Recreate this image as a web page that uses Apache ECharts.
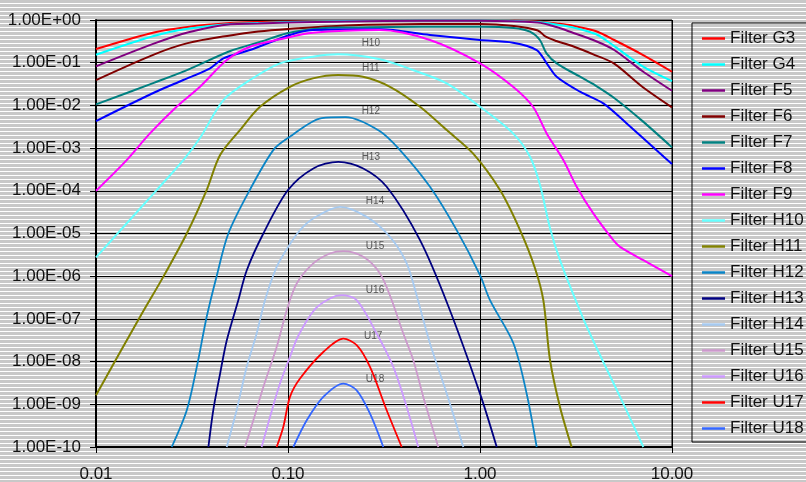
<!DOCTYPE html>
<html><head><meta charset="utf-8">
<script src="https://cdn.jsdelivr.net/npm/echarts@6/dist/echarts.min.js"></script>
<style>
html,body{margin:0;padding:0;background:#fff;}
#c{width:806px;height:482px;background:repeating-linear-gradient(to bottom,#c8c8c8 0px,#c8c8c8 3px,#ffffff 3px,#ffffff 4px);}
</style></head><body><div id="c"></div>
<script>
const seriesNames = ['Filter G3','Filter G4','Filter F5','Filter F6','Filter F7','Filter F8','Filter F9','Filter H10','Filter H11','Filter H12','Filter H13','Filter H14','Filter U15','Filter U16','Filter U17','Filter U18'];
const seriesColors = ['#ff0000','#00ffff','#800080','#800000','#008080','#0000ff','#ff00ff','#66ffff','#808000','#0a84c6','#000080','#a6caf0','#cc99cc','#cc99ff','#ff0000','#3366ff'];

const g3 = [[0.01,0.209],[0.02,0.512],[0.03,0.689],[0.05,0.851],[0.07,0.898],[0.1,0.923],[0.2,0.948],[0.5,0.973],[1,0.973],[2,0.923],[2.5,0.828],[3,0.743],[4,0.552],[5,0.34],[7,0.155],[10,0.0614]];
const g4 = [[0.01,0.154],[0.02,0.422],[0.03,0.622],[0.05,0.81],[0.07,0.851],[0.1,0.898],[0.2,0.948],[0.5,0.973],[1,0.973],[2,0.898],[2.5,0.785],[3,0.685],[4,0.47],[5,0.245],[7,0.0836],[10,0.0372]];
const f5 = [[0.01,0.0822],[0.02,0.279],[0.03,0.51],[0.05,0.797],[0.07,0.828],[0.1,0.873],[0.2,0.923],[0.5,0.963],[1,0.963],[2,0.873],[2.5,0.685],[3,0.515],[4,0.322],[5,0.198],[7,0.064],[10,0.022]];
const f6 = [[0.01,0.0392],[0.02,0.155],[0.03,0.287],[0.05,0.436],[0.07,0.537],[0.1,0.615],[0.2,0.743],[0.5,0.806],[1,0.806],[1.5,0.723],[2,0.568],[2.2,0.406],[2.5,0.322],[3,0.249],[4,0.149],[5,0.095],[7,0.0274],[10,0.009]];
const f7 = [[0.01,0.0106],[0.02,0.0337],[0.03,0.068],[0.05,0.188],[0.07,0.297],[0.1,0.496],[0.15,0.64],[0.2,0.667],[0.5,0.697],[1,0.697],[1.5,0.65],[1.82,0.532],[2.05,0.34],[2.22,0.166],[2.51,0.0967],[3.32,0.0469],[4,0.0291],[5,0.0149],[7,0.00434],[10,0.00104]];
const f8 = [[0.01,0.0043],[0.02,0.0198],[0.0285,0.0393],[0.0393,0.0738],[0.0461,0.1265],[0.0634,0.198],[0.1024,0.447],[0.1349,0.583],[0.301,0.605],[0.549,0.447],[1,0.34],[1.486,0.294],[1.974,0.198],[2.225,0.0967],[2.509,0.0469],[3.318,0.0209],[4.387,0.01117],[5.81,0.00379],[10,0.000422]];
const f9 = [[0.01,1e-4],[0.01445,5.24e-4],[0.0191,2.21e-3],[0.0263,9.29e-3],[0.0348,0.0273],[0.048,0.1155],[0.0634,0.237],[0.0908,0.353],[0.1349,0.504],[0.301,0.583],[0.549,0.34],[1,0.0967],[1.486,0.0273],[1.888,0.00929],[2.225,0.00221],[2.716,5.24e-4],[3.188,1.24e-4],[3.891,2.95e-5],[4.946,6.98e-6],[5.36,4.86e-6],[7.09,2.37e-6],[10,1e-6]];
const h10 = [[0.01,2.75e-6],[0.0207,1.04e-4],[0.0285,5.24e-4],[0.0348,1.72e-3],[0.0461,0.01334],[0.0634,0.0393],[0.0908,0.0967],[0.1349,0.138],[0.182,0.157],[0.301,0.12],[0.448,0.0673],[0.671,0.0328],[1,0.00929],[1.486,0.00221],[1.822,6.25e-4],[2.054,1.36e-4],[2.316,1.33e-5],[2.61,2.37e-6],[3.451,1.02e-7],[4.387,9.8e-9],[5.577,1.04e-9],[7.09,1e-10]];
const h11 = [[0.01,1.63e-9],[0.01694,1.11e-7],[0.0224,9.64e-7],[0.0297,1e-5],[0.0377,1.04e-4],[0.0443,6.86e-4],[0.0562,2.64e-3],[0.0715,9.29e-3],[0.1024,0.0273],[0.1349,0.043],[0.1828,0.0514],[0.2458,0.0469],[0.3398,0.0273],[0.487,0.00929],[0.671,2.64e-3],[0.919,7.52e-4],[1.271,1.04e-4],[1.616,1.2e-5],[1.934,1.54e-6],[2.137,2.74e-7],[2.316,1.08e-8],[2.61,8.66e-10],[3.0,1e-10]];
const h12 = [[0.0248,1e-10],[0.0297,7.24e-10],[0.0335,7.5e-9],[0.0377,1.11e-7],[0.0425,1e-6],[0.0489,1e-5],[0.0629,1e-4],[0.0838,8.98e-4],[0.1,1.72e-3],[0.15,5.05e-3],[0.2,5.33e-3],[0.3,2.52e-3],[0.383,8.98e-4],[0.549,1.24e-4],[0.756,1.2e-5],[1,1.06e-6],[1.127,2.74e-7],[1.494,2.65e-8],[1.75,1.78e-9],[1.974,1e-10]];
const h13 = [[0.0385,1e-10],[0.0408,7.24e-10],[0.0443,5.25e-9],[0.048,3.16e-8],[0.0551,2.74e-7],[0.061,1.38e-6],[0.0744,1e-5],[0.1,1.04e-4],[0.1355,3.34e-4],[0.1828,4.78e-4],[0.2466,3.34e-4],[0.3266,1.24e-4],[0.487,6.98e-6],[0.681,2.09e-7],[1,1.78e-9],[1.222,1e-10]];
const h14 = [[0.04795,1e-10],[0.054,7.24e-10],[0.0609,7.5e-9],[0.0687,4.55e-8],[0.0759,2.74e-7],[0.0873,1.65e-6],[0.1,4.79e-6],[0.1155,1.2e-5],[0.1354,2.25e-5],[0.1866,4.21e-5],[0.257,2.45e-5],[0.3398,8.34e-6],[0.4151,1.99e-6],[0.4754,2.74e-7],[0.549,2.65e-8],[0.671,1.78e-9],[0.8187,1e-10]];
const u15 = [[0.0597,1e-10],[0.066,4.22e-10],[0.0744,2.55e-9],[0.0873,2.2e-8],[0.0985,1.6e-7],[0.111,6.75e-7],[0.1354,1.99e-6],[0.1654,3.4e-6],[0.1941,3.86e-6],[0.2466,2.84e-6],[0.3014,1.16e-6],[0.3439,3.05e-7],[0.3986,4.55e-8],[0.4494,1.08e-8],[0.5066,1.49e-9],[0.6066,1e-10]];
const u16 = [[0.0729,1e-10],[0.0806,5.05e-10],[0.0908,3.06e-9],[0.1024,1.29e-8],[0.1128,3.93e-8],[0.1382,1.69e-7],[0.1654,3.01e-7],[0.1904,3.59e-7],[0.2279,2.74e-7],[0.2897,4.55e-8],[0.3535,7.5e-9],[0.4151,8.67e-10],[0.4772,1e-10]];
const u17 = [[0.0873,1e-10],[0.0945,2.94e-10],[0.1024,1.49e-9],[0.1155,4.01e-9],[0.1527,1.68e-8],[0.1941,3.47e-8],[0.2279,2.42e-8],[0.2674,7.5e-9],[0.3266,7.24e-10],[0.391,1e-10]];
const u18 = [[0.1066,1e-10],[0.1252,4.22e-10],[0.1527,1.49e-9],[0.1941,3.06e-9],[0.2279,2.13e-9],[0.2674,6.05e-10],[0.3136,1e-10]];

const curveLabels = ['H10','H11','H12','H13','H14','U15','U16','U17','U18'];
const curveLabelX = [0.27,0.27,0.27,0.27,0.284,0.284,0.284,0.278,0.284];
const curveLabelY = [0.284,0.0738,0.00737,6.26e-4,5.73e-5,5.05e-6,4.7e-7,3.93e-8,3.86e-9];

const xTickLabels = {'-2':'0.01','-1':'0.10','0':'1.00','1':'10.00'};

const allData = [g3,g4,f5,f6,f7,f8,f9,h10,h11,h12,h13,h14,u15,u16,u17,u18];
const FONT = 'Liberation Sans';

const series = allData.map((d,i)=>({
  name: seriesNames[i], type:'line', data:d, showSymbol:false, symbol:'none',
  smooth:0.3, clip:true,
  lineStyle:{color:seriesColors[i], width: i<9 ? 2 : 1.8},
  itemStyle:{color:seriesColors[i]},
  emphasis:{disabled:true}
}));
series.push({
  type:'scatter', name:'labels', symbolSize:0, silent:true,
  data: curveLabels.map((t,i)=>[curveLabelX[i],curveLabelY[i],t]),
  label:{show:true, position:'inside', formatter:p=>p.value[2], color:'#333', fontSize:10, fontFamily:FONT}
});

const chart = echarts.init(document.getElementById('c'), null, {renderer:'canvas'});
chart.setOption({
  animation:false,
  backgroundColor:'transparent',
  grid:{left:96, top:20, width:576, height:427, show:true, borderColor:'#000', borderWidth:1, backgroundColor:'transparent', outerBoundsMode:'none', containLabel:false},
  xAxis:{type:'log', logBase:10, min:0.01, max:10, interval:1,
    axisLine:{show:true, lineStyle:{color:'#000', width:2}},
    axisTick:{show:true, inside:false, length:6, lineStyle:{color:'#000'}},
    axisLabel:{margin:19, color:'#111', fontSize:17, fontFamily:FONT,
      formatter:v=>xTickLabels[String(Math.round(Math.log10(v)))] || v.toFixed(2)},
    splitLine:{show:true, lineStyle:{color:'#000', width:1}}},
  yAxis:{type:'log', logBase:10, min:1e-10, max:1, interval:1,
    axisLine:{show:true, lineStyle:{color:'#000', width:2}},
    axisTick:{show:true, inside:false, length:6, lineStyle:{color:'#000'}},
    axisLabel:{margin:15, color:'#111', fontSize:17, fontFamily:FONT,
      formatter:v=>{const e=Math.round(Math.log10(v)); const a=Math.abs(e); return '1.00E'+(e<0?'-':'+')+(a<10?'0'+a:a);}},
    splitLine:{show:true, lineStyle:{color:'#000', width:1}}},
  legend:{data:seriesNames, orient:'vertical', left:692, top:23,
    icon:'path://M0,0H46V5H0Z',
    itemWidth:23, itemHeight:2.5, itemGap:9,
    padding:[7,60,5,10], borderColor:'#000', borderWidth:1,
    textStyle:{color:'#111', fontSize:17, fontFamily:FONT}},
  series:series
});
</script></body></html>
